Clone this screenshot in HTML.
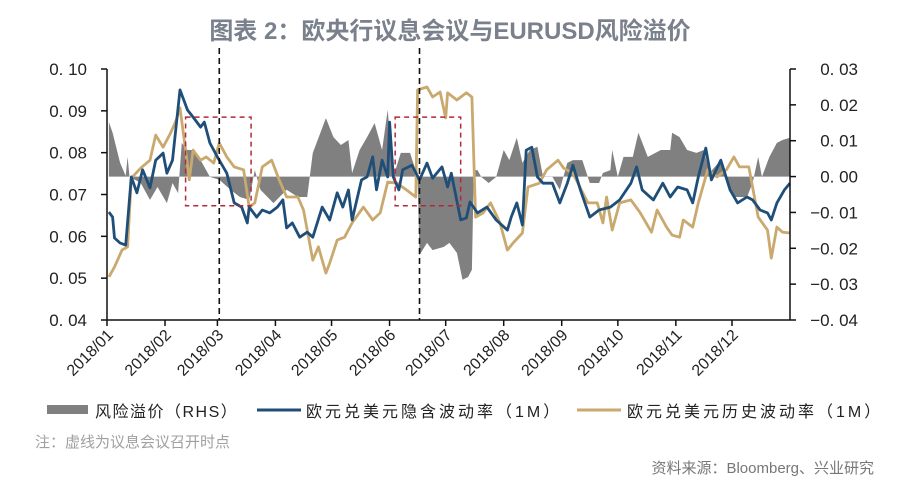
<!DOCTYPE html>
<html><head><meta charset="utf-8">
<style>
html,body{margin:0;padding:0;background:#fff;}
svg{display:block;font-family:"Liberation Sans","Noto Sans CJK SC",sans-serif;}
</style></head>
<body>
<svg id="chart" width="900" height="489" viewBox="0 0 900 489" xmlns="http://www.w3.org/2000/svg">
<text x="450" y="39" text-anchor="middle" font-size="24" font-weight="bold" fill="#7a818c" font-family="'Liberation Sans','Noto Sans CJK SC',sans-serif">图表 2：欧央行议息会议与EURUSD风险溢价</text>
<g id="plot"></g>
<g>
  <rect x="47" y="405" width="41" height="9" fill="#808080"/>
  <text x="95" y="417" font-size="16" letter-spacing="1.5" fill="#222">风险溢价（RHS）</text>
  <line x1="257" y1="410" x2="301" y2="410" stroke="#1f4e79" stroke-width="3"/>
  <text x="306" y="417" font-size="16" letter-spacing="3" fill="#222">欧元兑美元隐含波动率（1M）</text>
  <line x1="577" y1="410" x2="621" y2="410" stroke="#c9a96e" stroke-width="3"/>
  <text x="627" y="417" font-size="16" letter-spacing="3" fill="#222">欧元兑美元历史波动率（1M）</text>
</g>
<text x="35" y="447" font-size="15" fill="#a0a0a0">注：虚线为议息会议召开时点</text>
<text x="874" y="473" text-anchor="end" font-size="15" fill="#777">资料来源：Bloomberg、兴业研究</text>
</svg>
<script>
const monthLabels=["2018/01","2018/02","2018/03","2018/04","2018/05","2018/06","2018/07","2018/08","2018/09","2018/10","2018/11","2018/12"];
const monthStartDays=[0,31,59,90,120,151,181,212,243,273,304,334];
const leftTicks=[0.04,0.05,0.06,0.07,0.08,0.09,0.10];
const leftTickLabels=["0. 04","0. 05","0. 06","0. 07","0. 08","0. 09","0. 10"];
const rightTicks=[-0.04,-0.03,-0.02,-0.01,0,0.01,0.02,0.03];
const rightTickLabels=["−0. 04","−0. 03","−0. 02","−0. 01","0. 00","0. 01","0. 02","0. 03"];
const meetingDays=[60,167];
const boxDays=[[42,77],[154,189]];
const boxRange=[0.0673,0.0885];

const impliedDays=[1,3,4,7,10,13,16,19,23,26,30,32,35,39,43,46,50,52,55,59,64,68,72,75,76,80,83,87,91,94,96,99,103,107,110,115,119,123,126,129,131,136,139,142,144,147,150,151,153,156,158,163,167,171,174,179,182,184,189,192,194,198,203,208,214,216,219,222,224,227,230,233,238,242,246,249,253,258,263,269,274,280,283,286,292,297,301,305,310,313,316,320,323,328,333,337,342,345,349,353,355,358,362,365];
const impliedVol=[6.58,6.46,5.96,5.84,5.79,7.42,7.04,7.59,7.16,7.82,7.99,7.51,7.82,9.50,9.02,8.85,8.61,8.73,8.23,7.90,7.51,6.80,6.70,6.32,6.70,6.46,6.63,6.56,6.70,6.87,6.20,6.32,5.98,6.10,5.98,6.70,6.39,7.04,6.70,7.11,6.39,7.35,7.42,7.90,7.11,7.82,7.42,8.73,7.42,7.11,7.59,7.70,7.35,7.75,7.39,7.66,7.18,7.51,6.39,6.44,6.82,6.56,6.70,6.39,6.15,6.46,6.80,6.27,8.06,8.13,7.42,7.27,7.27,6.80,7.27,7.70,7.11,6.46,6.63,6.70,6.87,7.27,7.66,7.11,6.87,7.27,6.94,7.18,7.11,6.80,7.42,8.11,7.35,7.82,7.11,6.80,6.94,6.87,6.63,6.56,6.39,6.80,7.11,7.27];

const histDays=[1,4,8,11,13,18,23,26,30,34,37,39,42,44,46,50,53,57,60,64,68,73,76,79,83,88,92,96,102,105,110,113,117,119,123,127,131,137,142,146,150,155,160,165,166,171,174,178,181,182,187,192,195,197,201,205,210,214,217,222,225,231,235,241,244,249,257,262,265,267,270,274,280,285,291,294,299,302,306,308,313,316,321,326,331,335,338,343,348,353,355,358,361,365];
const histVol=[5.03,5.27,5.67,5.75,7.39,7.63,7.82,8.42,8.13,8.47,8.78,9.07,8.06,7.35,8.06,7.82,7.90,7.75,8.23,7.90,7.66,7.59,6.70,6.80,7.66,7.82,7.35,6.94,6.94,6.63,5.43,5.75,5.12,5.36,5.91,5.98,6.32,6.70,6.39,6.56,7.30,7.27,7.11,6.94,9.50,9.57,9.33,9.45,8.83,9.43,9.26,9.43,9.33,6.46,6.56,6.80,6.32,5.67,5.84,6.08,7.18,7.27,7.59,7.82,7.63,7.51,6.80,6.80,6.32,6.94,6.15,6.80,6.87,6.56,6.10,6.63,6.22,6.03,5.98,6.39,6.22,6.80,7.59,7.42,7.59,7.90,7.66,7.66,6.46,6.15,5.48,6.22,6.10,6.08];

const premDays=[1,3,7,10,11,12,18,23,27,32,35,38,40,43,46,50,55,60,66,71,76,79,82,89,96,102,107,110,117,121,125,129,131,135,139,143,147,150,153,157,162,166,167,171,174,180,183,187,190,193,195,196,198,200,204,208,212,215,219,222,226,230,233,238,242,246,249,254,258,263,265,269,270,273,276,281,284,289,296,301,302,306,310,315,319,322,328,331,335,342,345,348,350,354,358,361,365];
const premium=[1.52,1.22,0.38,0.02,0.55,0,-0.18,-0.65,-0.29,-0.74,-0.18,-0.46,0.94,0.74,0.74,0.46,-0.01,-0.09,-0.37,-0.57,-0.65,0.18,-0.37,-0.74,-0.37,-0.57,-0.57,0.66,1.63,1.10,0.88,1.02,0.10,0.74,1.10,1.49,0.74,1.86,-0.01,0.66,0.66,-0.01,-2.19,-1.85,-2.05,-1.96,-1.85,-2.13,-2.88,-2.80,-2.60,0.18,0.18,-0.01,-0.18,-0.01,0.74,0.46,1.08,0.38,0.74,0.83,-0.01,-0.01,-0.37,0.38,0.46,0.46,-0.18,-0.18,0.10,0.18,0.74,-0.01,0.55,0.55,1.22,0.55,0.74,0.74,1.22,1.10,0.74,0.66,0.74,0.10,0.46,-0.01,-0.57,-0.57,-0.18,0.55,-0.01,0.55,0.94,1.02,1.08];

const X0=107,X1=790,Y0=320,Y1=69;
const xs=d=>X0+(d/365)*(X1-X0);
const yL=v=>Y0-(v-0.04)/(0.10-0.04)*(Y0-Y1);
const yR=v=>Y0-(v+0.04)/(0.03+0.04)*(Y0-Y1);
const NS="http://www.w3.org/2000/svg";
const plot=document.getElementById('plot');
function mk(tag,attrs,parent){const e=document.createElementNS(NS,tag);for(const k in attrs)e.setAttribute(k,attrs[k]);(parent||plot).appendChild(e);return e;}

let d="M"+xs(premDays[0])+","+yR(0);
premDays.forEach((dd,i)=>{d+=" L"+xs(dd).toFixed(1)+","+yR(premium[i]/100).toFixed(1);});
d+=" L"+xs(premDays[premDays.length-1])+","+yR(0)+" Z";
const area=mk('path',{d:d,fill:'#808080',stroke:'none'});



function line(days,vals,color,name){
  const p=days.map((dd,i)=>xs(dd).toFixed(1)+","+yL(vals[i]/100).toFixed(1)).join(" ");
  const e=mk('polyline',{points:p,fill:'none',stroke:color,'stroke-width':2.8,'stroke-linejoin':'round'});
  
  
}
line(histDays,histVol,'#c9a96e','historical-vol-line');
line(impliedDays,impliedVol,'#1f4e79','implied-vol-line');

boxDays.forEach((b,i)=>{
  const r=mk('rect',{x:xs(b[0]),y:yL(boxRange[1]),width:xs(b[1])-xs(b[0]),height:yL(boxRange[0])-yL(boxRange[1]),fill:'none',stroke:'#b3283a','stroke-width':1.5,'stroke-dasharray':'5,4'});
  
  
});
meetingDays.forEach((m,i)=>{
  const l=mk('line',{x1:xs(m),x2:xs(m),y1:48,y2:Y0,stroke:'#111','stroke-width':1.6,'stroke-dasharray':'6,4'});
  
  
});

const ax=mk('line',{x1:X0,x2:X1,y1:Y0,y2:Y0,stroke:'#111','stroke-width':1.5});


const ayl=mk('line',{x1:X0,x2:X0,y1:Y1,y2:Y0,stroke:'#111','stroke-width':1.5});


const ayr=mk('line',{x1:X1,x2:X1,y1:Y1,y2:Y0,stroke:'#111','stroke-width':1.5});



leftTicks.forEach((t,i)=>{
  mk('line',{x1:X0-6,x2:X0,y1:yL(t),y2:yL(t),stroke:'#111','stroke-width':1.5});
  const tx=mk('text',{x:87,y:yL(t)+6,'text-anchor':'end','font-size':17,fill:'#222'});
  tx.textContent=leftTickLabels[i];
  
  
});
rightTicks.forEach((t,i)=>{
  mk('line',{x1:X1,x2:X1+6,y1:yR(t),y2:yR(t),stroke:'#111','stroke-width':1.5});
  const tx=mk('text',{x:858,y:yR(t)+6,'text-anchor':'end','font-size':17,fill:'#222'});
  tx.textContent=rightTickLabels[i];
  
  
});
monthStartDays.forEach((m,i)=>{
  const x=xs(m);
  mk('line',{x1:x,x2:x,y1:Y0,y2:Y0+6,stroke:'#111','stroke-width':1.5});
  const tx=mk('text',{x:x+7,y:Y0+16,'text-anchor':'end','font-size':16,fill:'#222',transform:'rotate(-45 '+(x+7)+' '+(Y0+16)+')'});
  tx.textContent=monthLabels[i];
  
  
});
</script>
</body></html>
